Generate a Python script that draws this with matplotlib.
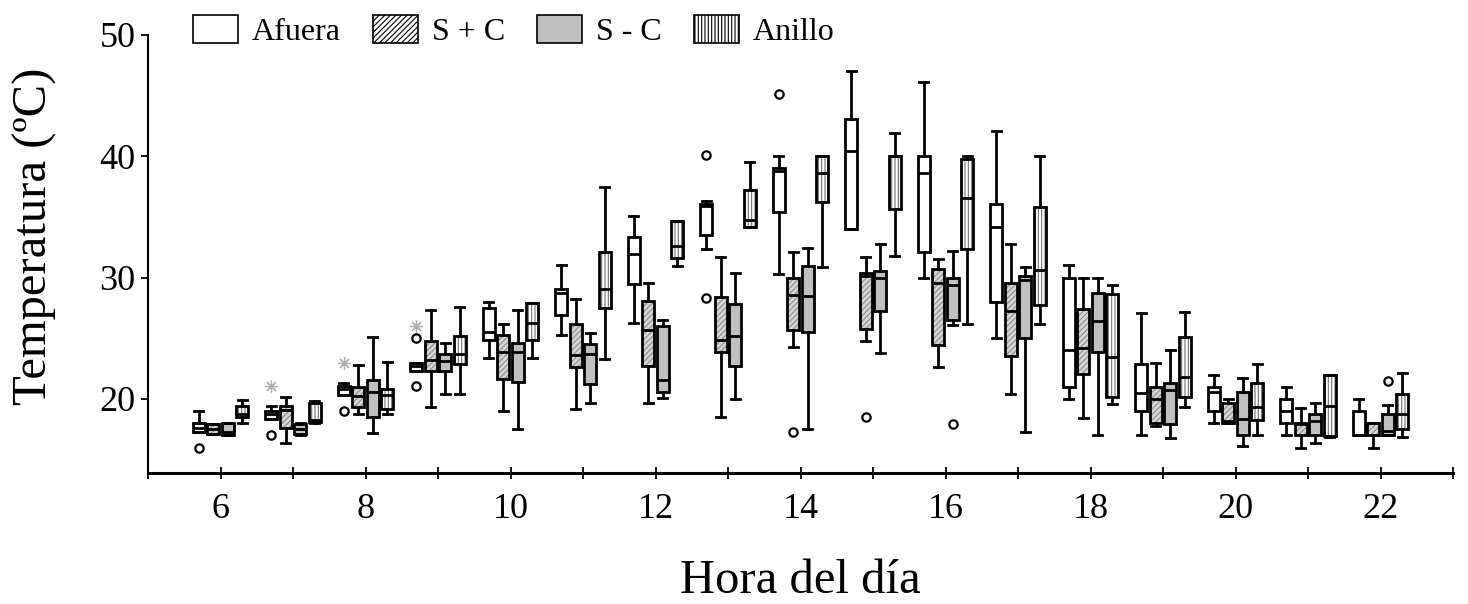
import numpy as np
import matplotlib.pyplot as plt
from matplotlib.patches import Patch, PathPatch

plt.rcParams['font.family'] = ['Liberation Serif', 'DejaVu Serif']
plt.rcParams['hatch.linewidth'] = 0.8

# Datos
horas = [6, 7, 8, 9, 10, 11, 12, 13, 14, 15, 16, 17, 18, 19, 20, 21, 22]
grupos = ["Afuera", "S + C", "S - C", "Anillo"]

# [bigote inf, Q1, mediana, Q3, bigote sup] por hora
afuera = [
    [17.3, 17.3, 17.6, 18.0, 19.0],
    [18.35, 18.35, 18.8, 19.0, 19.4],
    [20.3, 20.3, 20.8, 21.05, 21.3],
    [22.3, 22.3, 22.7, 23.0, 23.0],
    [23.4, 24.9, 25.55, 27.5, 28.0],
    [25.3, 26.9, 28.75, 29.05, 31.05],
    [26.3, 29.5, 31.95, 33.35, 35.05],
    [32.4, 33.5, 35.9, 36.05, 36.35],
    [30.3, 35.4, 38.75, 39.05, 40.0],
    [34.05, 34.05, 40.45, 43.05, 47.05],
    [30.0, 32.1, 38.65, 40.0, 46.1],
    [25.0, 28.0, 34.15, 36.1, 42.1],
    [20.0, 21.0, 24.05, 30.0, 31.05],
    [17.0, 19.0, 20.5, 22.9, 27.05],
    [18.0, 19.0, 20.55, 21.0, 22.0],
    [17.0, 18.0, 19.05, 20.0, 21.0],
    [17.0, 17.0, 17.0, 19.0, 20.0],
]
s_mas_c = [
    [17.1, 17.1, 17.5, 17.9, 17.9],
    [16.4, 17.6, 19.1, 19.45, 20.2],
    [18.8, 19.35, 20.25, 20.95, 22.8],
    [19.3, 22.3, 23.2, 24.8, 27.3],
    [19.05, 21.65, 23.9, 25.3, 26.2],
    [19.2, 22.6, 23.6, 26.2, 28.2],
    [19.7, 22.75, 25.65, 28.1, 29.6],
    [18.55, 23.85, 24.85, 28.4, 31.7],
    [24.3, 25.7, 28.55, 30.0, 32.15],
    [24.8, 25.8, 30.1, 30.4, 31.7],
    [22.6, 24.45, 29.55, 30.7, 31.5],
    [20.45, 23.55, 27.25, 29.6, 32.8],
    [18.4, 22.05, 24.2, 27.45, 30.0],
    [17.8, 18.0, 20.0, 21.0, 23.0],
    [18.0, 18.0, 18.2, 19.7, 20.0],
    [16.0, 17.0, 17.9, 18.0, 19.25],
    [16.0, 17.0, 17.05, 18.0, 18.0],
]
s_menos_c = [
    [17.0, 17.0, 17.3, 18.0, 18.0],
    [17.0, 17.1, 17.5, 17.9, 18.0],
    [17.2, 18.55, 20.6, 21.55, 25.1],
    [20.45, 22.3, 23.1, 23.7, 24.6],
    [17.5, 21.4, 23.9, 24.65, 27.3],
    [19.7, 21.2, 23.7, 24.5, 25.45],
    [20.1, 20.6, 21.55, 26.0, 26.55],
    [20.0, 22.7, 25.2, 27.8, 30.35],
    [17.55, 25.5, 28.5, 31.0, 32.45],
    [23.8, 27.25, 30.0, 30.55, 32.8],
    [26.1, 26.5, 29.4, 30.0, 32.2],
    [17.3, 25.0, 29.8, 30.15, 30.85],
    [17.0, 23.9, 26.4, 28.75, 30.0],
    [16.75, 17.95, 20.75, 21.35, 24.0],
    [16.15, 17.0, 18.35, 20.55, 21.75],
    [16.35, 17.0, 18.15, 18.75, 19.65],
    [17.0, 17.0, 17.4, 18.75, 19.5],
]
anillo = [
    [18.05, 18.5, 18.8, 19.4, 19.9],
    [18.0, 18.1, 18.25, 19.7, 19.85],
    [18.8, 19.2, 20.3, 20.85, 23.05],
    [20.45, 22.9, 23.7, 25.2, 27.6],
    [23.35, 24.85, 26.3, 27.9, 27.9],
    [23.3, 27.5, 29.05, 32.1, 37.5],
    [31.0, 31.65, 32.6, 34.65, 34.7],
    [34.2, 34.2, 34.75, 37.2, 39.5],
    [30.9, 36.2, 38.6, 40.0, 40.0],
    [31.75, 35.65, 40.0, 40.0, 41.9],
    [26.2, 32.4, 36.6, 39.75, 40.0],
    [26.15, 27.75, 30.6, 35.85, 40.0],
    [19.6, 20.2, 23.45, 28.65, 29.4],
    [19.3, 20.15, 21.8, 25.15, 27.2],
    [17.0, 18.25, 19.35, 21.35, 22.9],
    [16.85, 16.95, 19.4, 21.95, 22.0],
    [16.85, 17.5, 18.75, 20.45, 22.15],
]

# valores atipicos (hora, grupo, valor)
atipicos_hora = [6, 7, 8, 9, 9, 13, 13, 14, 14, 15, 16, 22]
atipicos_grupo = [0, 0, 0, 0, 0, 0, 0, 0, 1, 1, 2, 2]
atipicos_valor = [16.0, 17.0, 19.0, 25.05, 21.1, 40.1, 28.35, 45.15, 17.3, 18.5, 17.95, 21.45]

# valores extremos (asteriscos)
extremos_hora = [7, 8, 9]
extremos_grupo = [0, 0, 0]
extremos_valor = [21.1, 23.0, 26.0]

series = [afuera, s_mas_c, s_menos_c, anillo]
desplaz = [-0.3, -0.1, 0.1, 0.3]
# (relleno, trama, color de trama)
estilos = [("white", "", "black"), ("#d6d6d6", "//////", "#8c8c8c"),
           ("#c0c0c0", "", "black"), ("white", "|||||", "#707070")]

fig = plt.figure(figsize=(14.68, 6.04), dpi=100)
ax = fig.add_axes([148 / 1468, 1 - 473 / 604, (1453 - 148) / 1468, (473 - 35) / 604])

lw = 2.0
for g, datos in enumerate(series):
    stats = []
    for h, v in zip(horas, datos):
        stats.append(dict(whislo=v[0], q1=v[1], med=v[2], q3=v[3], whishi=v[4], fliers=[]))
    pos = [h + desplaz[g] for h in horas]
    bp = ax.bxp(stats, positions=pos, widths=0.165, patch_artist=True, showfliers=False,
                manage_ticks=False,
                boxprops=dict(linewidth=lw, edgecolor="black"),
                medianprops=dict(color="black", linewidth=lw),
                whiskerprops=dict(color="black", linewidth=lw),
                capprops=dict(color="black", linewidth=lw), capwidths=0.13)
    fc, hatch, hc = estilos[g]
    for b in bp["boxes"]:
        b.set_facecolor(fc)
        if hatch:
            b.set_hatch(hatch)
            b.set_edgecolor(hc)
            b.set_linewidth(0)
            contorno = PathPatch(b.get_path(), facecolor="none", edgecolor="black",
                                 linewidth=lw, zorder=b.get_zorder() + 0.1)
            ax.add_patch(contorno)

ax.plot([h + desplaz[g] for h, g in zip(atipicos_hora, atipicos_grupo)], atipicos_valor,
        linestyle="none", marker="o", markersize=6, markerfacecolor="white",
        markeredgecolor="black", markeredgewidth=1.6)
ax.plot([h + desplaz[g] for h, g in zip(extremos_hora, extremos_grupo)], extremos_valor,
        linestyle="none", marker=(8, 2, 0), markersize=9, color="#b0b0b0",
        markeredgewidth=0.9)

ax.set_xlim(5, 23)
ax.set_ylim(13.9, 50)
ax.set_xticks(range(6, 23, 2))
ax.set_xticks(range(5, 24, 2), minor=True)
ax.set_yticks([20, 30, 40, 50])
ax.tick_params(axis="x", which="both", direction="inout", length=9, width=1.3, labelsize=26, pad=10)
ax.tick_params(axis="y", direction="out", length=5, width=1.3, labelsize=26, pad=4)
for s in ["top", "right"]:
    ax.spines[s].set_visible(False)
ax.spines["bottom"].set_linewidth(2.2)
ax.spines["left"].set_linewidth(1.5)

ax.set_xlabel("Hora del día", fontsize=35, labelpad=24)
ax.set_ylabel("Temperatura (ºC)", fontsize=35)
ax.yaxis.set_label_coords(-0.07, 0.54)

handles = [Patch(facecolor="white", hatch=estilos[i][1],
                 edgecolor="black", linewidth=1.2, label=grupos[i]) for i in range(4)]
handles[2].set_facecolor(estilos[2][0])
fig.legend(handles=handles, loc="center left", bbox_to_anchor=(193 / 1468, 1 - 31 / 604),
           ncol=4, frameon=False, fontsize=23, handlelength=1.4, handleheight=0.95,
           handletextpad=0.45, columnspacing=1.0, borderpad=0, borderaxespad=0)

fig.savefig("out.png", dpi=100)
